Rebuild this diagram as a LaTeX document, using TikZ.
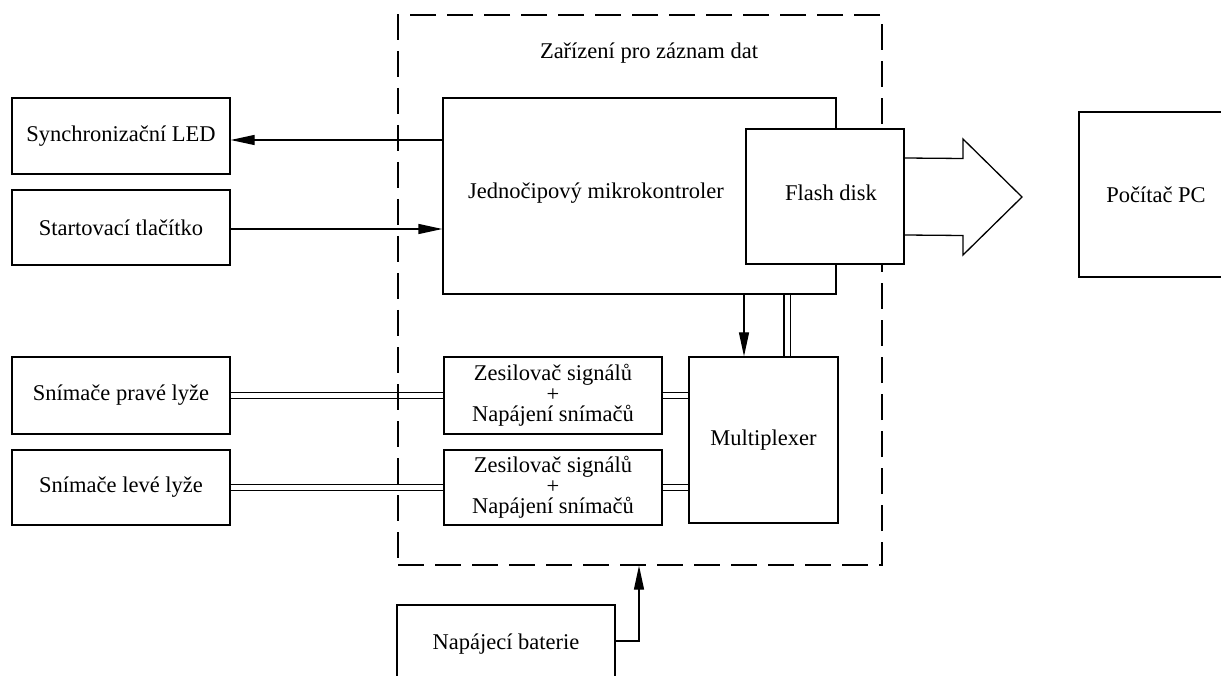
\documentclass[tikz,border=0pt]{standalone}
\usepackage{fontspec}
\setmainfont{Liberation Serif}
\usetikzlibrary{arrows.meta,calc}
\begin{document}
\begin{tikzpicture}[x=1pt,y=-1pt,
  box/.style={draw, line width=1.3pt, rectangle, inner sep=0pt, align=center},
  lbl/.style={inner sep=0pt, align=center},
  arr/.style={line width=1.3pt, -{Triangle[length=24pt,width=10pt]}},
  dbl/.style={line width=1.2pt, double, double distance=5pt},
  devbox/.style={draw, line width=1.3pt, dash pattern=on 26pt off 11pt, rectangle, inner sep=0pt},
  font=\fontsize{22.5}{20.5}\selectfont]
\useasboundingbox (0,0) rectangle (1221,676);
\clip (0,0) rectangle (1221,676);

% left column
\node[box, minimum width=218pt, minimum height=76pt] (led) at (121,136) {Synchronizační LED};
\node[box, minimum width=218pt, minimum height=75pt] (start) at (121,227.5) {Startovací tlačítko};
\node[box, minimum width=218pt, minimum height=77pt] (right) at (121,395.5) {Snímače pravé lyže};
\node[box, minimum width=218pt, minimum height=75pt] (left) at (121,487.5) {Snímače levé lyže};

% inner blocks
\node[box, minimum width=393pt, minimum height=196pt] (mcu) at (639.5,196) {};
\node[lbl] (mcutext) at (596,193) {Jednočipový mikrokontroler};
\node[box, minimum width=218pt, minimum height=77pt] (zes1) at (553,395.5) {Zesilovač signálů\\+\\Napájení snímačů};
\node[box, minimum width=218pt, minimum height=75pt] (zes2) at (553,487.5) {Zesilovač signálů\\+\\Napájení snímačů};
\node[box, minimum width=149pt, minimum height=166pt] (mux) at (763.5,440) {Multiplexer};

% battery and PC
\node[box, minimum width=218pt, minimum height=78pt] (bat) at (506,644) {Napájecí baterie};
\node[box, minimum width=154pt, minimum height=165pt] (pc) at (1156,194.5) {Počítač PC};

% connectors
\draw[arr] (mcu.west |- 0,140) -- (led.east |- 0,140);
\draw[arr] (start.east |- 0,229) -- (mcu.west |- 0,229);
\draw[dbl] (right.east) -- (zes1.west);
\draw[dbl] (left.east) -- (zes2.west);
\draw[dbl] (zes1.east) -- (zes1.east -| mux.west);
\draw[dbl] (zes2.east) -- (zes2.east -| mux.west);
\draw[arr] (mcu.south -| 744,0) -- (mux.north -| 744,0);
\draw[dbl] (mcu.south -| 787,0) -- (mux.north -| 787,0);

% device boundary
\node[devbox, minimum width=484pt, minimum height=550pt] (dev) at (640,290) {};
\node[lbl] (title) at (649,53) {Zařízení pro záznam dat};
\draw[arr] (bat.east |- 0,641) -| (dev.south -| 639,0);

% flash disk on top
\node[box, fill=white, minimum width=158pt, minimum height=135pt] (flash) at (825,196.5) {};
\node[lbl] (flashtext) at (831,193) {Flash disk};

% big transfer arrow
\draw[line width=1.3pt, line join=miter]
  ($(flash.east)+(0,-38.5)$) -- (963,158.5) -- (963,139) -- (1022,197) -- (963,255)
  -- (963,235.5) -- ($(flash.east)+(0,38.5)$);
\end{tikzpicture}
\end{document}
